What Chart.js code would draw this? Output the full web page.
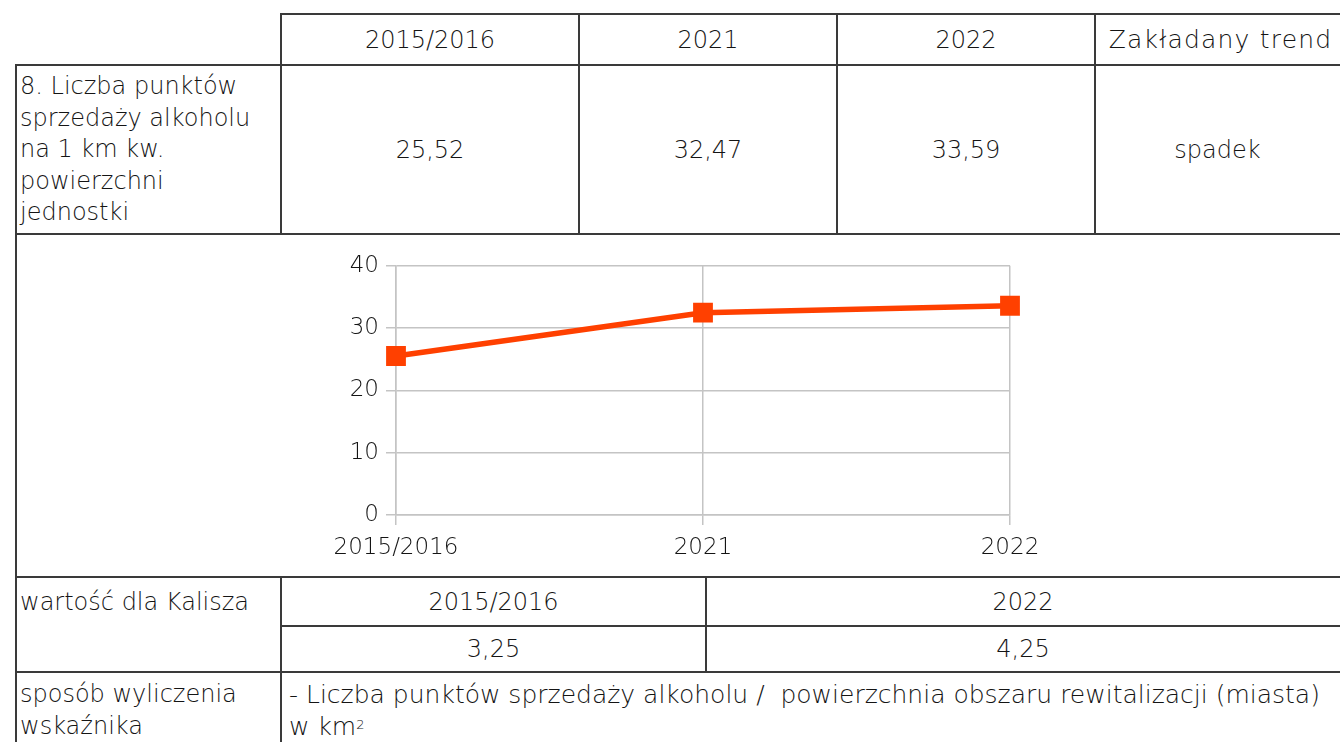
<!DOCTYPE html>
<html><head><meta charset="utf-8">
<script src="https://cdn.jsdelivr.net/npm/chart.js@4.4.1/dist/chart.umd.min.js"></script>
<style>
html,body{margin:0;padding:0;}
body{width:1340px;height:742px;overflow:hidden;background:#fff;font-family:"DejaVu Sans",sans-serif;font-weight:200;color:#141414;position:relative;}
.h{position:absolute;height:1.5px;background:#3a3a3a;}
.v{position:absolute;width:1.5px;background:#3a3a3a;}
.c{position:absolute;display:flex;align-items:center;justify-content:center;font-size:24px;white-space:nowrap;}
.lt{position:absolute;font-size:24px;line-height:31.5px;white-space:nowrap;}
sup{font-size:13px;vertical-align:top;position:relative;top:-2px;}
#cv{position:absolute;left:300px;top:245px;}
</style></head>
<body>
<!-- top table lines -->
<div class="h" style="left:281px;top:13px;width:1059px"></div>
<div class="h" style="left:15px;top:64px;width:1325px"></div>
<div class="h" style="left:15px;top:233px;width:1325px"></div>
<div class="v" style="left:15px;top:64px;height:678px"></div>
<div class="v" style="left:280px;top:13px;height:221px"></div>
<div class="v" style="left:578px;top:13px;height:221px"></div>
<div class="v" style="left:836px;top:13px;height:221px"></div>
<div class="v" style="left:1094px;top:13px;height:221px"></div>
<!-- bottom table lines -->
<div class="h" style="left:15px;top:576px;width:1325px"></div>
<div class="h" style="left:281px;top:625px;width:1059px"></div>
<div class="h" style="left:15px;top:671px;width:1325px"></div>
<div class="v" style="left:280px;top:576px;height:166px"></div>
<div class="v" style="left:705px;top:576px;height:96px"></div>

<div id="texts"></div>
<canvas id="cv" width="760" height="330"></canvas>

<script>
// ---- data ----
const headerCols = ["2015/2016", "2021", "2022", "Zakładany trend"];
const rowLabelLines = ["8. Liczba punktów", "sprzedaży alkoholu", "na 1 km kw.", "powierzchni", "jednostki"];
const rowValues = ["25,52", "32,47", "33,59", "spadek"];
const categories = ["2015/2016", "2021", "2022"];
const seriesValues = [25.52, 32.47, 33.59];
const yTicks = [0, 10, 20, 30, 40];
const kaliszYears = ["2015/2016", "2022"];
const kaliszValues = ["3,25", "4,25"];

// ---- table texts ----
const T = document.getElementById('texts');
function cell(x, y, w, h, txt){
  const d = document.createElement('div'); d.className='c';
  d.style.left=x+'px'; d.style.top=y+'px'; d.style.width=w+'px'; d.style.height=h+'px';
  d.innerHTML = txt; T.appendChild(d);
  return d;
}
const colX = [281, 579, 837, 1095, 1340];
for(let i=0;i<4;i++){
  const extra = i===3 ? 6 : 0;
  const hd = cell(colX[i], 14, colX[i+1]-colX[i]+extra, 51, headerCols[i]);
  if(i===3){ hd.style.letterSpacing='1.2px'; hd.style.fontSize='25px'; }
  cell(colX[i], 65, colX[i+1]-colX[i], 169, rowValues[i]);
}
const lab = document.createElement('div'); lab.className='lt';
lab.style.left='20px'; lab.style.top='71px';
lab.innerHTML = rowLabelLines.join('<br>'); T.appendChild(lab);

const w1 = document.createElement('div'); w1.className='lt';
w1.style.left='20px'; w1.style.top='587px'; w1.textContent='wartość dla Kalisza'; T.appendChild(w1);
cell(281, 577, 425, 49, kaliszYears[0]);
cell(706, 577, 634, 49, kaliszYears[1]);
cell(281, 626, 425, 46, kaliszValues[0]);
cell(706, 626, 634, 46, kaliszValues[1]);

const s1 = document.createElement('div'); s1.className='lt';
s1.style.left='20px'; s1.style.top='679px'; s1.innerHTML='sposób wyliczenia<br>wskaźnika'; T.appendChild(s1);
const s2 = document.createElement('div'); s2.className='lt';
s2.style.left='289px'; s2.style.top='679px'; s2.style.fontSize='25px';
s2.innerHTML='- Liczba punktów sprzedaży alkoholu /&nbsp; powierzchnia obszaru rewitalizacji (miasta)<br>w km<sup>2</sup>';
T.appendChild(s2);

// ---- chart ----
const grid = '#c4c4c4';
const tickFont = {family:'"DejaVu Sans", sans-serif', size:23, weight:200};
new Chart(document.getElementById('cv'), {
  type:'line',
  data:{labels:categories, datasets:[{
    data:seriesValues, borderColor:'#ff4000', backgroundColor:'#ff4000',
    borderWidth:5.5, pointStyle:'rect', pointRadius:14, pointHoverRadius:14,
    pointBorderWidth:0, tension:0, fill:false
  }]},
  options:{
    responsive:false, animation:false, devicePixelRatio:1,
    layout:{padding:{top:20,right:50,left:0,bottom:0}},
    plugins:{legend:{display:false}, tooltip:{enabled:false}},
    scales:{
      x:{offset:false, grid:{color:grid, tickLength:10, lineWidth:1.5}, border:{color:grid, width:1.5},
         ticks:{font:tickFont, color:'#141414', padding:9, maxRotation:0},
         afterFit:s=>{s.height=60;}},
      y:{min:yTicks[0], max:yTicks[yTicks.length-1], grid:{color:grid, tickLength:10, lineWidth:1.5}, border:{color:grid, width:1.5},
         afterBuildTicks:s=>{s.ticks = yTicks.map(v=>({value:v}));},
         ticks:{font:tickFont, color:'#141414', padding:7},
         afterFit:s=>{s.width=96;}}
    }
  }
});
</script>
</body></html>
